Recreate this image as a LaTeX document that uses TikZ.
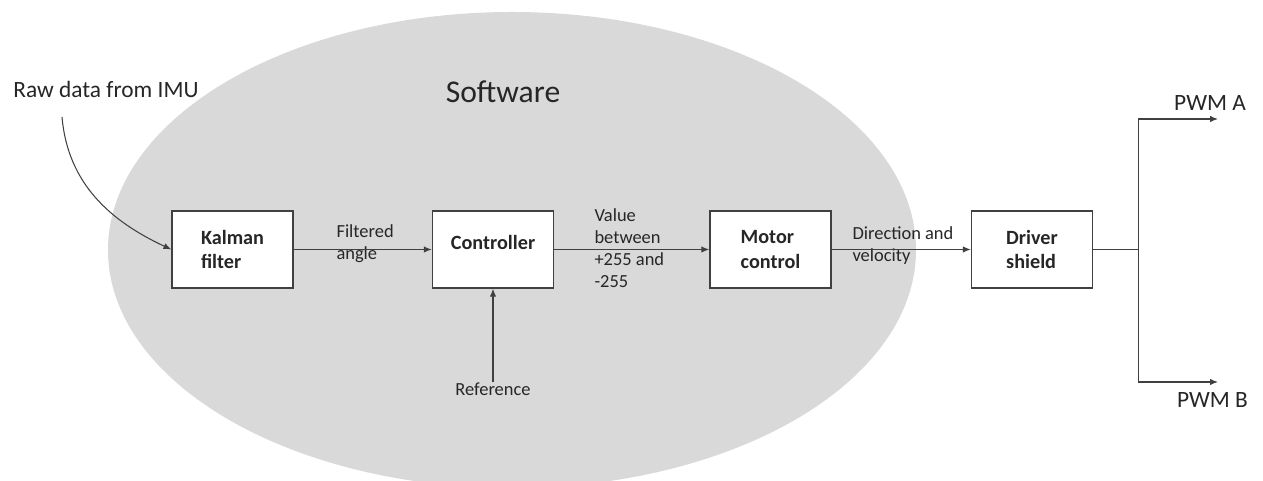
\documentclass[tikz,border=0pt]{standalone}
\usepackage{fontspec}
\setmainfont{Carlito}
\usetikzlibrary{arrows.meta}
\definecolor{blobgray}{HTML}{D9D9D9}
\definecolor{linegray}{HTML}{404040}
\definecolor{inkgray}{HTML}{262626}

\begin{document}
\begin{tikzpicture}[>={Latex[length=4.5pt,width=3.6pt]}, line width=0.6pt, linegray,
    every node/.style={text=inkgray},
    block/.style={draw=linegray, line width=0.8pt, fill=white, minimum width=2.42cm, minimum height=1.54cm,
      align=left, font=\fontsize{11.5}{14.2}\selectfont\bfseries},
    lbl/.style={inner sep=0pt, align=left, font=\fontsize{10.5}{12.5}\selectfont},
    big/.style={font=\fontsize{13.3}{16}\selectfont}]
  \useasboundingbox (0, 0) rectangle (25.26, 9.62);
  \fill[blobgray] (10.24, 4.62) ellipse (8.08 and 4.76);

  \node[font=\fontsize{18}{22}\selectfont] (sw) at (10.06, 7.78) {Software};
  \node[big] (raw) at (2.12, 7.84) {Raw data from IMU};

  \node[block] (kalman) at (4.65, 4.63) {Kalman\\filter};
  \node[block, text depth=0.3cm] (ctrl) at (9.86, 4.63) {Controller};
  \node[block] (motor) at (15.41, 4.63) {Motor\\control};
  \node[block] (driver) at (20.64, 4.63) {Driver\\shield};

  \node[lbl, anchor=west] (filt) at (6.72, 4.74) {Filtered\\angle};
  \node[lbl, anchor=west] (val) at (11.88, 4.66) {Value\\between\\+255 and\\-255};
  \node[lbl, anchor=west] (dir) at (17.04, 4.70) {Direction and\\velocity};
  \node[lbl] (ref) at (9.86, 1.84) {Reference};

  \coordinate (imu) at (1.24, 7.28);
  \coordinate (split) at ([xshift=0.91cm]driver.east);
  \coordinate (outA) at (24.36, 7.24);
  \coordinate (outB) at (24.36, 1.98);
  \node[big] (pwma) at (24.20, 7.56) {PWM A};
  \node[big] (pwmb) at (24.25, 1.62) {PWM B};

  \draw[->] (imu) to[out=-85, in=155] (kalman.west);
  \draw[->] (kalman) -- (ctrl);
  \draw[->] (ctrl) -- (motor);
  \draw[->] (motor) -- (driver);
  \draw[->] (ref) -- (ctrl);
  \draw (driver.east) -- (split);
  \draw[->] (split) |- (outA);
  \draw[->] (split) |- (outB);
\end{tikzpicture}
\end{document}
